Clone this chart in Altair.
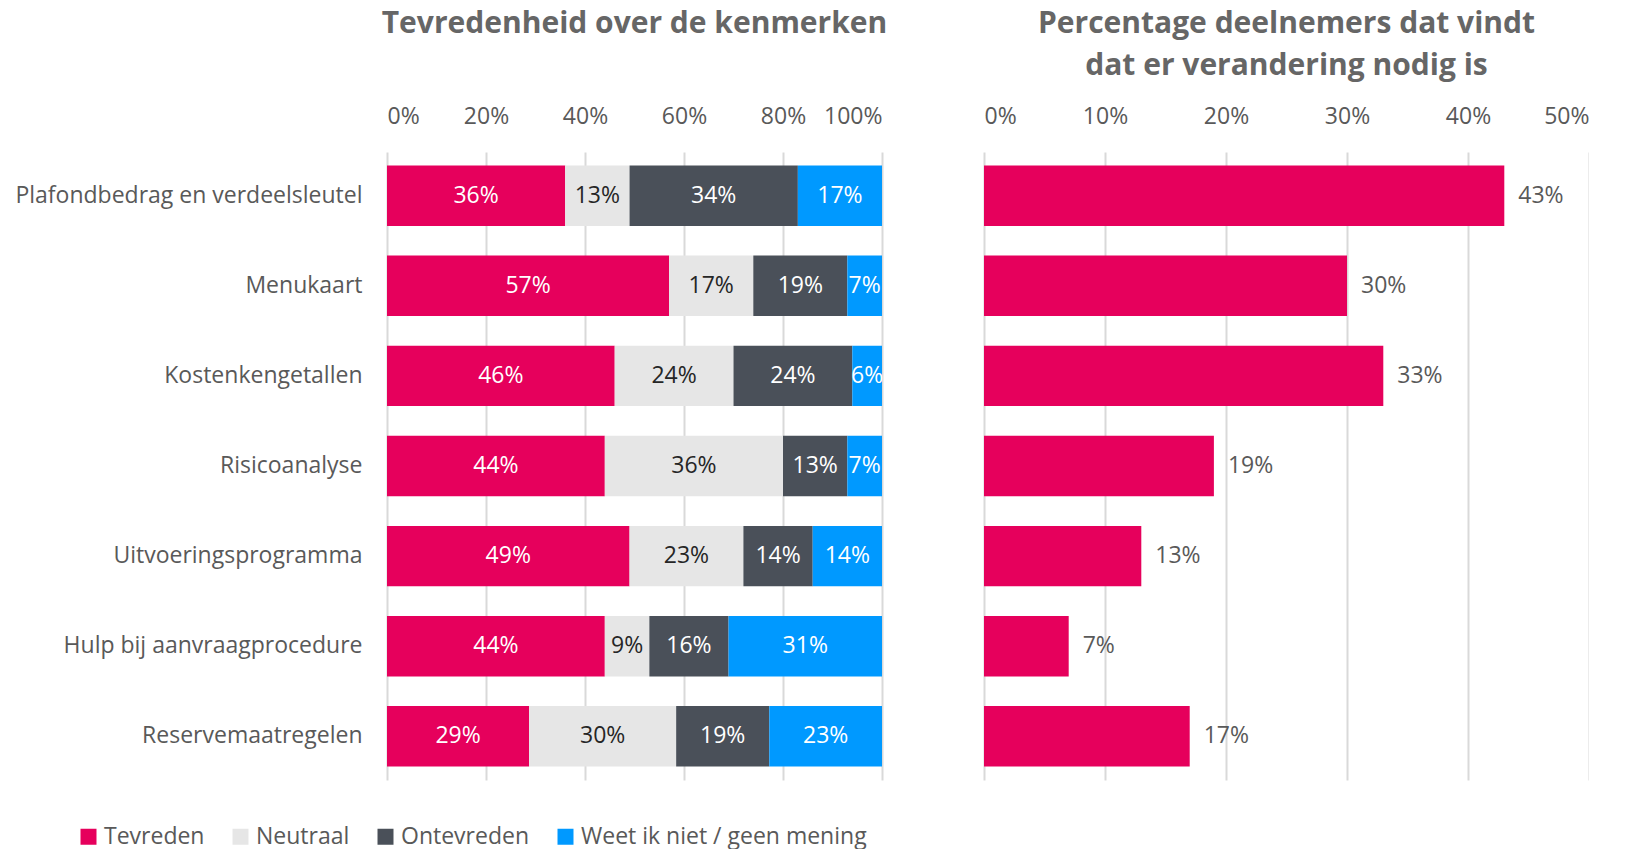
import altair as alt
import pandas as pd

categories = [
    "Plafondbedrag en verdeelsleutel",
    "Menukaart",
    "Kostenkengetallen",
    "Risicoanalyse",
    "Uitvoeringsprogramma",
    "Hulp bij aanvraagprocedure",
    "Reservemaatregelen",
]
series = ["Tevreden", "Neutraal", "Ontevreden", "Weet ik niet / geen mening"]
tevreden = [36, 57, 46, 44, 49, 44, 29]
neutraal = [13, 17, 24, 36, 23, 9, 30]
ontevreden = [34, 19, 24, 13, 14, 16, 19]
weet_niet = [17, 7, 6, 7, 14, 31, 23]
verandering = [43, 30, 33, 19, 13, 7, 17]

colors = ["#E6005C", "#E6E6E6", "#4A5059", "#0099FF"]
text_colors = ["#FFFFFF", "#262626", "#FFFFFF", "#FFFFFF"]

FONT = "Open Sans"
GRAY = "#666666"
LBL = "#595959"
FS = 23

rows = []
for i, c in enumerate(categories):
    for j, (s, vals) in enumerate(zip(series, [tevreden, neutraal, ontevreden, weet_niet])):
        rows.append({"cat": c, "series": s, "order": j, "value": vals[i],
                     "tcolor": text_colors[j]})
df_left = pd.DataFrame(rows)
df_right = pd.DataFrame({"cat": categories, "value": verandering})

yscale = alt.Scale(domain=categories, paddingInner=0.33, paddingOuter=0.15)

base_left = alt.Chart(df_left).transform_stack(
    stack="value", groupby=["cat"], as_=["s0", "s1"], offset="normalize",
    sort=[alt.SortField("order", order="ascending")]
).transform_calculate(mid="(datum.s0 + datum.s1) / 2", label="datum.value + '%'")

bars_left = base_left.mark_bar().encode(
    y=alt.Y("cat:N", scale=yscale, sort=categories,
            axis=alt.Axis(title=None, domain=False, ticks=False, labelFontSize=FS,
                          labelColor=LBL, labelFont=FONT, labelPadding=25,
                          labelLimit=500)),
    x=alt.X("s0:Q", scale=alt.Scale(domain=[0, 1]),
            axis=alt.Axis(orient="top", format="%", values=[0, 0.2, 0.4, 0.6, 0.8, 1.0],
                          title=None, domain=False, ticks=False, labelFontSize=FS,
                          labelColor=LBL, labelFont=FONT,
                          labelPadding=24, grid=True, gridColor="#D9D9D9", gridWidth=2)),
    x2="s1:Q",
    color=alt.Color("series:N", scale=alt.Scale(domain=series, range=colors),
                    legend=alt.Legend(title=None, orient="none", legendX=-310, legendY=673,
                                      direction="horizontal", symbolType="square",
                                      symbolSize=256, symbolStrokeWidth=0,
                                      labelFontSize=FS, labelFont=FONT, labelColor=LBL,
                                      labelLimit=500, columnPadding=24, symbolOffset=0,
                                      labelOffset=4)),
)
text_left = base_left.mark_text(fontSize=FS, font=FONT).encode(
    y=alt.Y("cat:N", scale=yscale, sort=categories),
    x=alt.X("mid:Q"),
    text="label:N",
    color=alt.Color("tcolor:N", scale=None),
)
left = alt.layer(bars_left, text_left).properties(
    width=495, height=628,
    title=alt.TitleParams("Tevredenheid over de kenmerken", fontSize=30, font=FONT,
                          fontWeight="bold", color=GRAY, anchor="middle", offset=66),
)

base_right = alt.Chart(df_right).transform_calculate(
    frac="datum.value / 100", label="datum.value + '%'")
bars_right = base_right.mark_bar(color="#E6005C").encode(
    y=alt.Y("cat:N", scale=yscale, sort=categories, axis=None),
    x=alt.X("frac:Q", scale=alt.Scale(domain=[0, 0.5]),
            axis=alt.Axis(orient="top", format="%", values=[0, 0.1, 0.2, 0.3, 0.4, 0.5],
                          title=None, domain=False, ticks=False, labelFontSize=FS,
                          labelColor=LBL, labelFont=FONT,
                          labelPadding=24, grid=True, gridColor="#D9D9D9", gridWidth=2)),
)
text_right = base_right.mark_text(fontSize=FS, font=FONT, align="left",
                                  dx=14, color=LBL).encode(
    y=alt.Y("cat:N", scale=yscale, sort=categories),
    x=alt.X("frac:Q"),
    text="label:N",
)
right = alt.layer(bars_right, text_right).properties(
    width=605, height=628,
    title=alt.TitleParams(["Percentage deelnemers dat vindt", "dat er verandering nodig is"],
                          fontSize=30, font=FONT, fontWeight="bold", color=GRAY,
                          anchor="middle", offset=24, lineHeight=42),
)

chart = alt.hconcat(left, right, spacing=102, bounds="flush").configure_view(
    stroke=None).properties(padding={"top": 1, "left": 6, "right": 0, "bottom": 0})

chart.save("out.html", embed_options={"renderer": "svg", "actions": False})
